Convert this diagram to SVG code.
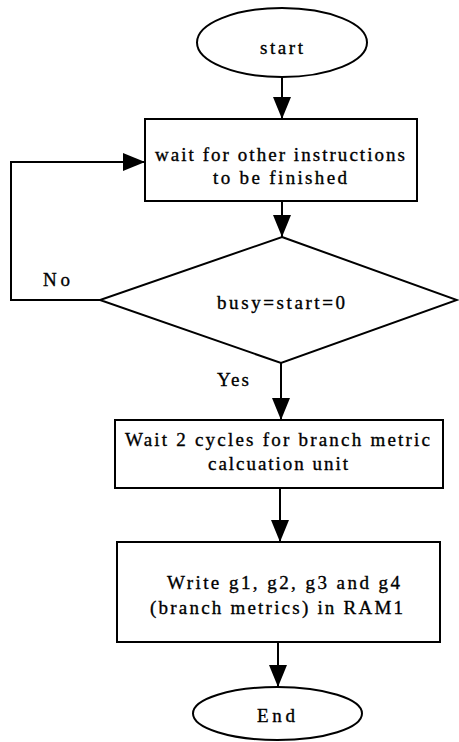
<svg xmlns="http://www.w3.org/2000/svg" width="459" height="742" viewBox="0 0 459 742">
  <style>
    .shape { fill: #ffffff; stroke: #000000; stroke-width: 2; }
    .wire { fill: none; stroke: #000000; stroke-width: 2; }
    .label { font-family: "Liberation Serif", "Times New Roman", serif; font-size: 19px; fill: #000000; stroke: #000000; stroke-width: 0.35; }
  </style>
  <defs>
    <marker id="head" viewBox="0 0 22 18" refX="22" refY="9" markerWidth="22" markerHeight="18" markerUnits="userSpaceOnUse" orient="auto">
      <path d="M0,0 L22,9 L0,18 Z" fill="#000000"/>
    </marker>
  </defs>
  <rect width="459" height="742" fill="#ffffff"/>

  <g id="connectors">
    <line class="wire" x1="282" y1="77" x2="282" y2="119" marker-end="url(#head)"/>
    <line class="wire" x1="282" y1="201" x2="282" y2="237" marker-end="url(#head)"/>
    <polyline class="wire" points="100,300 11,300 11,162 145,162" marker-end="url(#head)"/>
    <line class="wire" x1="281" y1="363" x2="281" y2="420" marker-end="url(#head)"/>
    <line class="wire" x1="280" y1="488" x2="280" y2="542" marker-end="url(#head)"/>
    <line class="wire" x1="278" y1="642" x2="278" y2="687" marker-end="url(#head)"/>
    <text class="label" x="43" y="286" textLength="27">No</text>
    <text class="label" x="217" y="386" textLength="32">Yes</text>
  </g>

  <g id="start">
    <ellipse class="shape" cx="282" cy="42.5" rx="85" ry="34.5"/>
    <text class="label" x="260" y="54" textLength="43">start</text>
  </g>

  <g id="wait-instructions">
    <rect class="shape" x="145" y="119" width="272" height="82"/>
    <text class="label" x="155" y="161" textLength="250">wait for other instructions</text>
    <text class="label" x="213" y="184" textLength="134">to be finished</text>
  </g>

  <g id="busy-check">
    <polygon class="shape" points="282,237 457,300 281,363 100,300"/>
    <text class="label" x="217" y="309" textLength="128">busy=start=0</text>
  </g>

  <g id="wait-cycles">
    <rect class="shape" x="115" y="420" width="328" height="68"/>
    <text class="label" x="125" y="446" textLength="305">Wait 2 cycles for branch metric</text>
    <text class="label" x="208" y="470" textLength="140">calcuation unit</text>
  </g>

  <g id="write-ram">
    <rect class="shape" x="117" y="542" width="323" height="100"/>
    <text class="label" x="167" y="589" textLength="233">Write g1, g2, g3 and g4</text>
    <text class="label" x="150" y="614" textLength="253">(branch metrics) in RAM1</text>
  </g>

  <g id="end">
    <ellipse class="shape" cx="277.5" cy="713.5" rx="84.5" ry="26.5"/>
    <text class="label" x="257" y="722" textLength="38">End</text>
  </g>
</svg>
